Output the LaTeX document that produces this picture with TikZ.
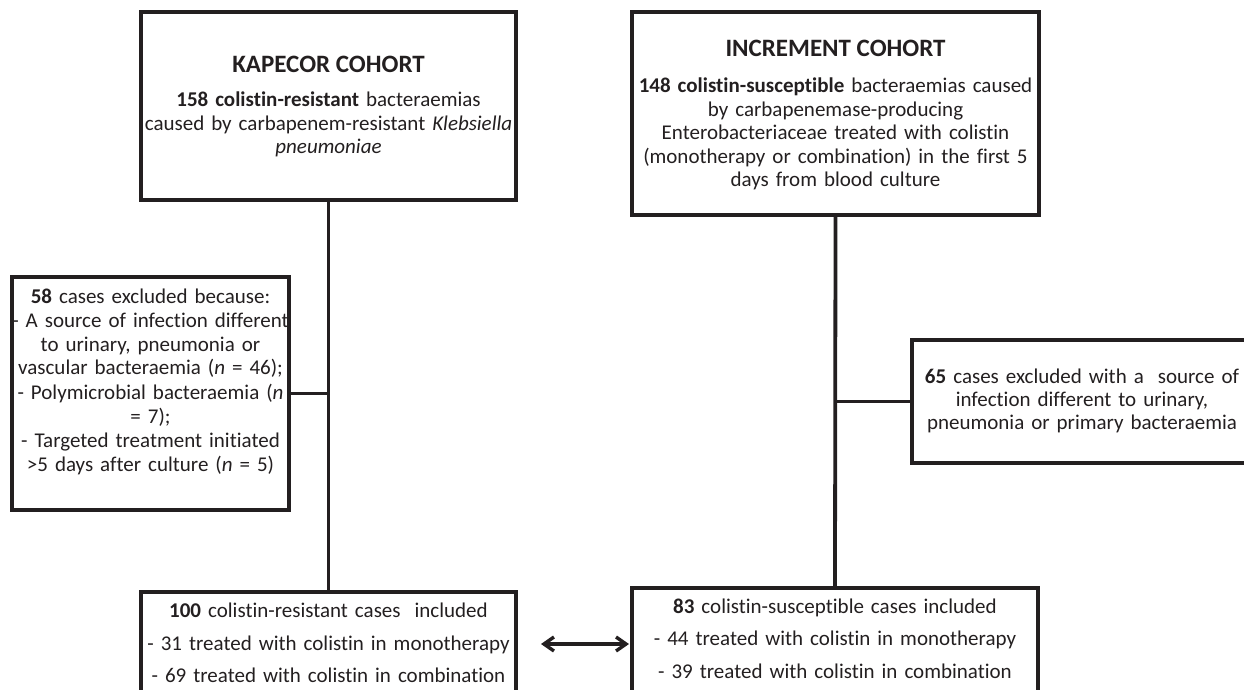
\documentclass[tikz,border=0pt]{standalone}
\usepackage{fontspec}
\setmainfont{Carlito}[Ligatures={NoCommon,NoRare,NoContextual}]
\usetikzlibrary{arrows.meta}
\definecolor{ink}{RGB}{35,31,32}
\newcommand\tI{t\kern0pt i}
\begin{document}
\begin{tikzpicture}[x=1pt,y=-1pt,
  box/.style={draw=ink, line width=3.8pt, inner sep=0pt, minimum width=#1},
  conn/.style={draw=ink, line width=3.8pt},
  txt/.style={text=ink, inner sep=0pt, anchor=base, align=center, text width=440pt,
    font=\fontsize{21}{23.4}\selectfont},
  wide/.style={txt, font=\fontsize{21}{32.5}\selectfont},
  head/.style={text=ink, inner sep=0pt, anchor=base, font=\fontsize{25}{30}\selectfont\bfseries},
  dbl/.style={conn, line width=3.4pt, {Straight Barb[length=10pt,width=14pt]}-{Straight Barb[length=10pt,width=14pt]}},
]
\useasboundingbox (0,0) rectangle (1244,690);
\clip (0,0) rectangle (1244,690);

% boxes
\node[box=375pt, minimum height=188pt] (kap) at (328.5,106) {};
\node[box=407pt, minimum height=203pt] (inc) at (835.5,113.5) {};
\node[box=277pt, minimum height=233pt] (exl) at (150.5,393.5) {};
\node[box=344pt, minimum height=123pt] (exr) at (1084,401.5) {};
\node[box=375pt, minimum height=128pt] (bl) at (328.5,656) {};
\node[box=406pt, minimum height=132pt] (br) at (835,654) {};

% connectors
\draw[conn] (kap.south) -- (bl.north);
\draw[conn] (inc.south) -- (br.north);
\draw[conn] (exl.east) -- (exl.east -| kap.south);
\draw[conn] (exr.west) -- (exr.west -| inc.south);
\coordinate (al) at (541,644);
\coordinate (ar) at (629,644);
\draw[dbl] (al) -- (ar);

% texts
\node[head] (kaph) at (328.5,73) {KAPECOR COHORT};
\node[txt] (kapt) at (328.5,107) {\textbf{158 colis\tI n-resistant} bacteraemias\\
  caused by carbapenem-resistant \textit{Klebsiella}\\ \textit{pneumoniae}};

\node[head] (inch) at (835.5,57) {INCREMENT COHORT};
\node[txt] (inct) at (835.5,93) {\textbf{148 colis\tI n-susceptible} bacteraemias caused\\
  by carbapenemase-producing\\ Enterobacteriaceae treated with colis\tI n\\
  (monotherapy or combina\tI on) in the first 5\\ days from blood culture};

\node[txt] (exlt) at (150.5,303) {\textbf{58} cases excluded because:\\[1.5pt]
  - A source of infec\tI on different\\ to urinary, pneumonia or\\
  vascular bacteraemia (\textit{n} = 46);\\[1.5pt]
  - Polymicrobial bacteraemia (\textit{n}\\ = 7);\\[1.5pt]
  - Targeted treatment ini\tI ated\\ >5 days after culture (\textit{n} = 5)};

\node[txt] (exrt) at (1082,383) {\textbf{65} cases excluded with a~ source of\\
  infec\tI on different to urinary,\\ pneumonia or primary bacteraemia};

\node[wide] (blt) at (328.5,617.5) {\textbf{100} colis\tI n-resistant cases~ included\\
  - 31 treated with colis\tI n in monotherapy\\ - 69 treated with colis\tI n in combina\tI on};
\node[wide] (brt) at (835,613) {\textbf{83} colis\tI n-susceptible cases included\\
  - 44 treated with colis\tI n in monotherapy\\ - 39 treated with colis\tI n in combina\tI on};
\end{tikzpicture}
\end{document}
